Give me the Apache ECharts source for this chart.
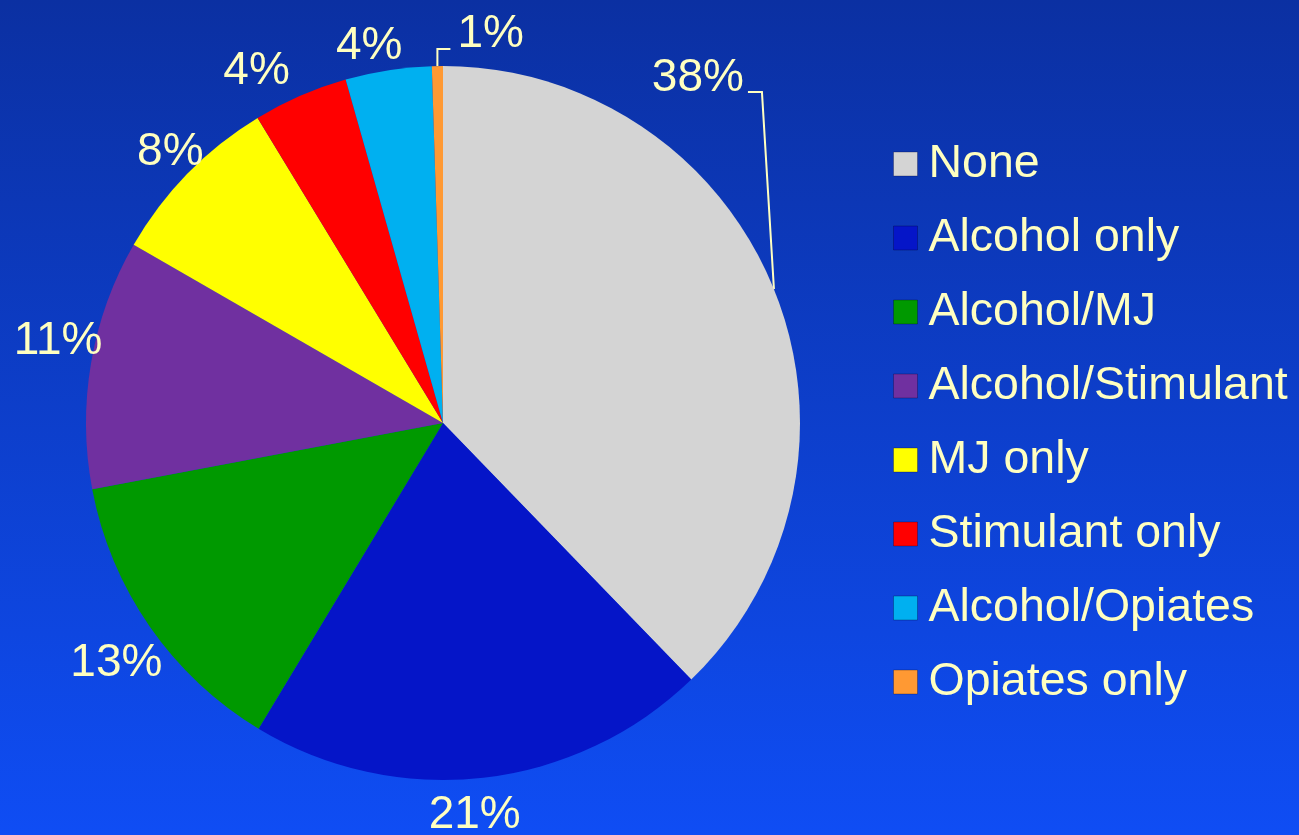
<!DOCTYPE html>
<html><head><meta charset="utf-8">
<script src="https://cdn.jsdelivr.net/npm/echarts@6/dist/echarts.min.js"></script>
<style>html,body{margin:0;padding:0;background:#0d3fd0;}#c{width:1299px;height:835px;}</style>
</head><body><div id="c"></div>
<script>
// ---- data ----
const categories = ['None', 'Alcohol only', 'Alcohol/MJ', 'Alcohol/Stimulant', 'MJ only', 'Stimulant only', 'Alcohol/Opiates', 'Opiates only'];
const shares = [37.8, 20.9, 13.4, 11.3, 8.0, 4.3, 3.9, 0.5];
const percentLabels = ['38%', '21%', '13%', '11%', '8%', '4%', '4%', '1%'];

// ---- style ----
const colors = ['#d4d4d4', '#0515c8', '#009900', '#7030a0', '#ffff00', '#ff0000', '#00b0f0', '#ff9933'];
const textColor = '#ffffc0';
const fontFamily = '"Liberation Sans", Arial, sans-serif';
const calloutIdx = [0, 7];
const callouts = {
  0: { align: 'right', label: [-30, -211], line: [[-12, -197], [-26, -197]] },
  7: { align: 'left', label: [20, -32], line: [[0, -17], [13, -17]] }
};
const nudges = { 1: [-13, -2], 2: [-1, 14], 3: [6, -15], 4: [11, 6], 5: [-28, 12], 6: [-13, 15] };
const CX = 443, CY = 423, R = 357;

function edgePoint(i) {
  const total = shares.reduce((a, b) => a + b, 0);
  let before = 0;
  for (let k = 0; k < i; k++) before += shares[k];
  const a = (before + shares[i] / 2) / total * Math.PI * 2;
  return [CX + R * Math.sin(a), CY - R * Math.cos(a)];
}

const chart = echarts.init(document.getElementById('c'), null, { renderer: 'canvas' });
chart.setOption({
  animation: false,
  backgroundColor: {
    type: 'linear', x: 0, y: 0, x2: 0, y2: 1,
    colorStops: [{ offset: 0, color: '#0b30a2' }, { offset: 1, color: '#0f4df4' }]
  },
  legend: {
    orient: 'vertical', left: 893, top: 139, padding: 0,
    itemWidth: 24, itemHeight: 24, itemGap: 24, icon: 'rect',
    selectedMode: false,
    data: categories,
    itemStyle: { borderWidth: 1, borderColor: 'rgba(0,0,40,0.3)' },
    textStyle: { color: textColor, fontSize: 46.5, fontFamily: fontFamily, lineHeight: 50, padding: [0, 0, 0, 6] }
  },
  series: [
    {
      type: 'pie', center: [CX, CY], radius: R, startAngle: 90, clockwise: true,
      avoidLabelOverlap: false,
      emphasis: { disabled: true },
      data: categories.map((n, i) => ({
        name: n, value: shares[i], itemStyle: { color: colors[i] },
        label: { show: calloutIdx.includes(i) },
        labelLine: { show: calloutIdx.includes(i) }
      })),
      label: {
        position: 'outside',
        formatter: p => percentLabels[p.dataIndex],
        color: textColor, fontSize: 46, fontFamily: fontFamily
      },
      labelLine: { length: 10, length2: 10, smooth: false, lineStyle: { color: textColor, width: 2 } },
      labelLayout: function (p) {
        const c = callouts[p.dataIndex];
        if (!c) return {};
        const P = (p.labelLinePoints && p.labelLinePoints[0]) ? p.labelLinePoints[0] : edgePoint(p.dataIndex);
        return {
          x: P[0] + c.label[0], y: P[1] + c.label[1],
          align: c.align, verticalAlign: 'middle',
          labelLinePoints: [[P[0], P[1]], [P[0] + c.line[0][0], P[1] + c.line[0][1]], [P[0] + c.line[1][0], P[1] + c.line[1][1]]]
        };
      }
    },
    {
      type: 'pie', center: [CX, CY], radius: [R, 430], startAngle: 90, clockwise: true,
      silent: true, avoidLabelOverlap: false,
      emphasis: { disabled: true },
      itemStyle: { color: 'rgba(0,0,0,0)' },
      data: categories.map((n, i) => ({
        name: n, value: shares[i],
        label: { show: !calloutIdx.includes(i) }
      })),
      label: {
        position: 'inside',
        formatter: p => percentLabels[p.dataIndex],
        color: textColor, fontSize: 46, fontFamily: fontFamily
      },
      labelLine: { show: false },
      labelLayout: function (p) {
        const d = nudges[p.dataIndex];
        return d ? { dx: d[0], dy: d[1] } : {};
      }
    }
  ]
});
</script>
</body></html>
